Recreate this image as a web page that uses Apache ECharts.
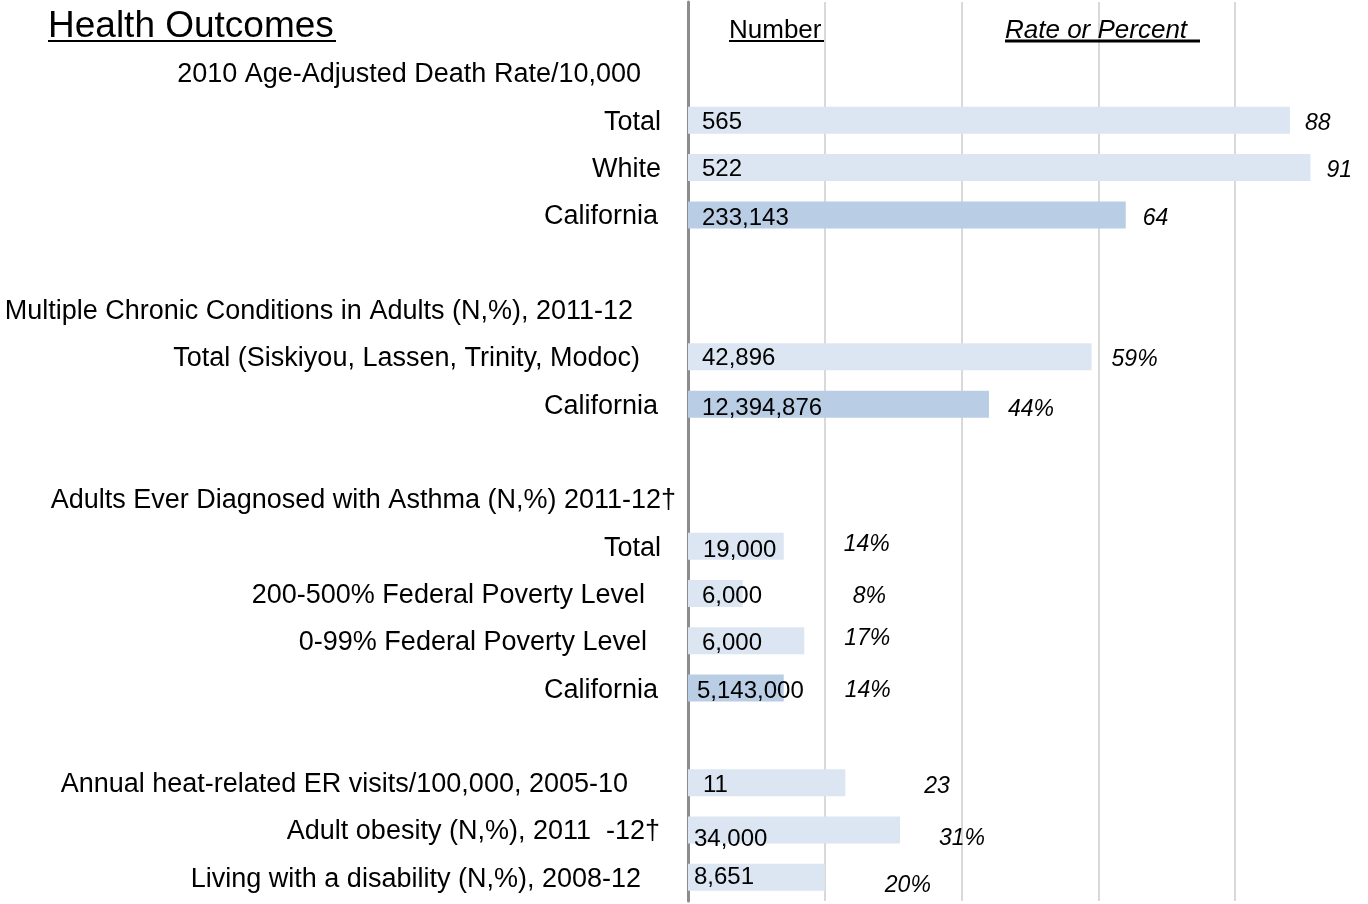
<!doctype html>
<html lang="en">

<head>
    <meta charset="UTF-8" />
    <title>Health Outcomes</title>
    <style>
        html, body { margin: 0; padding: 0; background: #fff; }
        #chart { width: 1368px; height: 904px; }
    </style>
</head>

<body>
    <div id="chart"></div>
    <script src="https://cdn.jsdelivr.net/npm/echarts@6/dist/echarts.min.js"></script>
    <script>
        // rows top to bottom (first row holds the column headers)
        var categories = [
            '',
            '2010 Age-Adjusted Death Rate/10,000',
            'Total',
            'White',
            'California',
            '',
            'Multiple Chronic Conditions in Adults (N,%), 2011-12',
            'Total (Siskiyou, Lassen, Trinity, Modoc)',
            'California',
            '',
            'Adults Ever Diagnosed with Asthma (N,%) 2011-12†',
            'Total',
            '200-500% Federal Poverty Level',
            '0-99% Federal Poverty Level',
            'California',
            '',
            'Annual heat-related ER visits/100,000, 2005-10',
            'Adult obesity (N,%), 2011  -12†',
            'Living with a disability (N,%), 2008-12'
        ];
        var rates = [null, null, 88, 91, 64, null, null, 59, 44, null, null, 14, 8, 17, 14, null, 23, 31, 20];
        var rateText = ['', '', '88', '91', '64', '', '', '59%', '44%', '', '', '14%', '8%', '17%', '14%', '', '23', '31%', '20%'];
        var counts = [null, null, 565, 522, 233143, null, null, 42896, 12394876, null, null, 19000, 6000, 6000, 5143000, null, 11, 34000, 8651];
        var colHeaders = ['Number', 'Rate or Percent '];
        var title = 'Health Outcomes';

        // layout tweaks
        var labelRight = [0, 641, 661, 661, 658, 0, 633, 640, 658, 0, 676, 661, 645, 647, 658, 0, 628, 660, 641];
        var countShift = [null, null, [14, 2], [14, 2], [14, 3], null, null, [14, 2], [14, 4], null, null,
            [15, 4], [14, 3], [14, 3], [9, 3], null, [15, 3], [6, 9], [6, 0]];
        var rateShift = [null, null, [15, 3], [16, 3], [17, 4], null, null, [20, 3], [19, 5], null, null,
            [60, -2], [110, 3], [40, -2], [61, 3], null, [79, 4], [39, 9], [60, 8]];

        var font = 'Liberation Sans, Arial, sans-serif';
        var chart = echarts.init(document.getElementById('chart'));

        // one rich style per row so each label can sit at its own right edge
        var rich = {};
        categories.forEach(function (c, i) {
            rich['p' + i] = {
                fontSize: 27,
                fontFamily: font,
                color: '#000',
                padding: [4, 688 - (labelRight[i] || 688), 0, 0]
            };
        });

        var countData = counts.map(function (v, i) {
            if (v == null) return '-';
            return {
                value: rates[i],
                itemStyle: { color: categories[i] === 'California' ? '#b9cde5' : '#dce6f2' },
                label: { offset: countShift[i] }
            };
        });
        var rateData = rates.map(function (v, i) {
            if (v == null) return '-';
            return { value: v, label: { offset: rateShift[i] } };
        });

        var option = {
            animation: false,
            backgroundColor: '#fff',
            grid: { left: 688, right: -4, top: 2, bottom: 3, containLabel: false, outerBoundsMode: 'none' },
            xAxis: {
                type: 'value',
                min: 0,
                max: 100,
                interval: 20,
                axisLine: { show: false },
                axisTick: { show: false },
                axisLabel: { show: false },
                splitLine: { lineStyle: { color: '#d9d9d9', width: 2 } }
            },
            yAxis: {
                type: 'category',
                inverse: true,
                data: categories,
                axisLine: { show: true, lineStyle: { color: '#8c8c8c', width: 3 } },
                axisTick: { show: false },
                axisLabel: {
                    margin: 0,
                    interval: 0,
                    rich: rich,
                    formatter: function (value, index) {
                        if (!value) return '';
                        return '{p' + index + '|' + value + '}';
                    }
                }
            },
            series: [
                {
                    name: 'Number',
                    type: 'bar',
                    barWidth: 27,
                    data: countData,
                    label: {
                        show: true,
                        position: 'insideLeft',
                        distance: 0,
                        fontSize: 24,
                        fontFamily: font,
                        color: '#000',
                        formatter: function (p) {
                            return counts[p.dataIndex].toLocaleString('en-US');
                        }
                    },
                    z: 3
                },
                {
                    name: 'Rate',
                    type: 'bar',
                    barWidth: 27,
                    barGap: '-100%',
                    silent: true,
                    data: rateData,
                    itemStyle: { color: 'transparent' },
                    label: {
                        show: true,
                        position: 'right',
                        distance: 0,
                        fontSize: 23,
                        fontStyle: 'italic',
                        fontFamily: font,
                        color: '#000',
                        formatter: function (p) {
                            return rateText[p.dataIndex];
                        }
                    },
                    z: 4
                }
            ],
            graphic: [
                {
                    type: 'text', left: 48, top: 8, z: 10,
                    style: { text: title, fontSize: 37, fontFamily: font, fill: '#000' }
                },
                { type: 'line', z: 10, shape: { x1: 48, y1: 41, x2: 336, y2: 41 }, style: { stroke: '#000', lineWidth: 2 } },
                {
                    type: 'text', left: 729, top: 18, z: 10,
                    style: { text: colHeaders[0], fontSize: 26, fontFamily: font, fill: '#000' }
                },
                { type: 'line', z: 10, shape: { x1: 729, y1: 41, x2: 824, y2: 41 }, style: { stroke: '#000', lineWidth: 2 } },
                {
                    type: 'text', left: 1005, top: 18, z: 10,
                    style: { text: colHeaders[1], fontSize: 26, fontStyle: 'italic', fontFamily: font, fill: '#000' }
                },
                { type: 'line', z: 10, shape: { x1: 1005, y1: 41, x2: 1200, y2: 41 }, style: { stroke: '#000', lineWidth: 3 } }
            ]
        };

        chart.setOption(option);

        window.onresize = function () {
            chart.resize();
        };
    </script>
</body>

</html>
